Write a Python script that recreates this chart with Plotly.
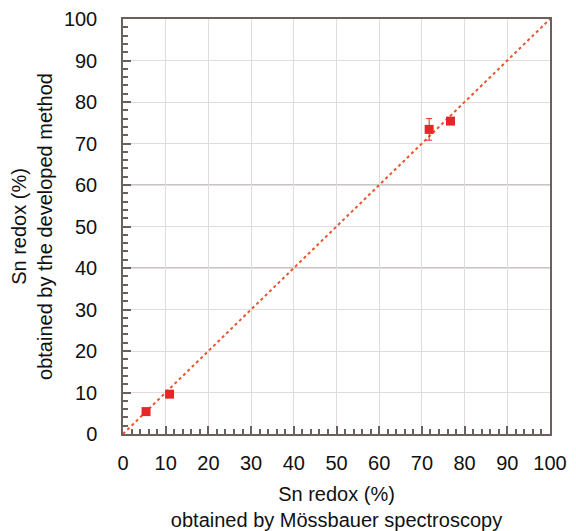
import plotly.graph_objects as go

mossbauer = [5.4, 10.9, 71.7, 76.7]
developed = [5.4, 9.6, 73.4, 75.4]
developed_err = [0.0, 0.0, 2.6, 0.0]
line_x = [0, 100]
line_y = [0, 100]
ticks = list(range(0, 101, 10))

FONT = "Liberation Sans, Arial"

fig = go.Figure()
fig.add_trace(go.Scatter(x=line_x, y=line_y, mode="lines",
                         line=dict(color="#e8542c", width=2, dash="dot"),
                         showlegend=False, hoverinfo="skip"))
fig.add_trace(go.Scatter(x=mossbauer, y=developed, mode="markers",
                         marker=dict(symbol="square", size=9, color="#e8262a"),
                         error_y=dict(type="data", array=developed_err, visible=True,
                                      color="#e8262a", thickness=1, width=3),
                         showlegend=False))

for v in [40, 60]:
    fig.add_shape(type="line", xref="x", yref="y", x0=0, x1=100, y0=v, y1=v,
                  line=dict(color="#b4b0b0", width=1.5), layer="below")

axis_common = dict(
    range=[0, 100], tickvals=ticks, showgrid=True, gridcolor="#e2dcdc", gridwidth=1,
    showline=True, linecolor="#6a6060", linewidth=1.5, mirror=True,
    ticks="inside", ticklen=8, tickcolor="#6a6060", tickwidth=1.5,
    tickfont=dict(family=FONT, size=20, color="#111"),
    zeroline=False, automargin=False, ticklabeloverflow="allow",
    minor=dict(dtick=2, ticks="inside", ticklen=5, tickcolor="#6a6060", showgrid=False),
    title_font=dict(family=FONT, size=20, color="#111"),
)

fig.update_xaxes(**axis_common, title_text="Sn redox (%)<br>obtained by Mössbauer spectroscopy",
                 ticklabelstandoff=10, title_standoff=14)
fig.update_yaxes(**axis_common, title_text="Sn redox (%)<br>obtained by the developed method",
                 ticklabelstandoff=20, title_standoff=12)

fig.update_layout(
    width=568, height=523,
    margin=dict(l=115, r=26, t=11, b=97),
    plot_bgcolor="white", paper_bgcolor="white",
    font=dict(family=FONT, color="#111"),
)

fig.write_html("out.html")
